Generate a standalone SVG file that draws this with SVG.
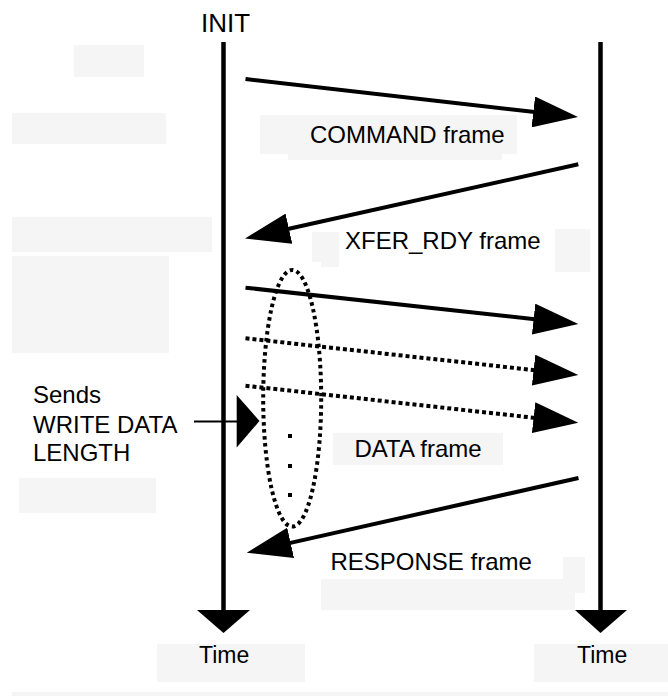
<svg xmlns="http://www.w3.org/2000/svg" width="668" height="696" viewBox="0 0 668 696">
<style>
.bg{fill:#f5f5f5;stroke:none}
.lbl{font-family:"Liberation Sans",Arial,sans-serif;font-size:24px;fill:#000}
.life{stroke:#000;stroke-width:4.5;fill:none}
.arr{stroke:#000;stroke-width:4;fill:none;marker-end:url(#ah)}
.dot{stroke:#000;stroke-width:4;fill:none;stroke-dasharray:4 3;marker-end:url(#ah)}
.head{fill:#000;stroke:none}
</style>
<defs>
<marker id="ah" markerUnits="userSpaceOnUse" viewBox="0 0 45 31" refX="15" refY="15.5" markerWidth="45" markerHeight="31" orient="auto">
<path d="M0,0 L45,15.5 L0,31 Z" fill="#000"/>
</marker>
</defs>
<rect width="668" height="696" fill="#fff"/>
<g id="erased-areas">
<rect class="bg" x="74" y="45" width="70" height="32"/>
<rect class="bg" x="12" y="113" width="154" height="31"/>
<rect class="bg" x="260" y="115" width="257" height="39"/>
<rect class="bg" x="288" y="154" width="214" height="6"/>
<rect class="bg" x="12" y="217" width="200" height="35"/>
<rect class="bg" x="12" y="256" width="157" height="97"/>
<rect class="bg" x="19" y="478" width="137" height="35"/>
<rect class="bg" x="312" y="232" width="27" height="30"/>
<rect class="bg" x="321" y="262" width="18" height="5"/>
<rect class="bg" x="555" y="229" width="35" height="43"/>
<rect class="bg" x="333" y="433" width="170" height="32"/>
<rect class="bg" x="563" y="557" width="22" height="22"/>
<rect class="bg" x="321" y="579" width="264" height="14"/>
<rect class="bg" x="321" y="593" width="254" height="17"/>
<rect class="bg" x="157" y="644" width="148" height="38"/>
<rect class="bg" x="534" y="644" width="134" height="38"/>
<rect class="bg" x="12" y="692" width="656" height="4"/>
</g>
<g id="initiator">
<text class="lbl" x="201" y="32" style="font-size:26px">INIT</text>
<line class="life" x1="223.5" y1="42" x2="223.5" y2="612"/>
<polygon class="head" points="197,610 250,610 223.5,633"/>
<text class="lbl" x="199" y="663" style="font-size:23px">Time</text>
</g>
<g id="target">
<line class="life" x1="600.5" y1="42" x2="600.5" y2="612"/>
<polygon class="head" points="575,610 627,610 600.5,633"/>
<text class="lbl" x="577" y="663" style="font-size:23px">Time</text>
</g>
<g id="burst-ellipse">
<ellipse cx="292.2" cy="398.3" rx="29" ry="128.3" fill="none" stroke="#000" stroke-width="4" stroke-dasharray="3.5 3.5"/>
<rect x="288" y="434" width="4" height="4" fill="#000"/>
<rect x="288" y="464" width="4" height="4" fill="#000"/>
<rect x="288" y="493" width="4" height="4" fill="#000"/>
</g>
<g id="sends-note">
<text class="lbl" x="33" y="403">Sends</text>
<text class="lbl" x="33" y="433">WRITE DATA</text>
<text class="lbl" x="33" y="461">LENGTH</text>
</g>
<g id="labels">
<text class="lbl" x="310" y="143">COMMAND frame</text>
<text class="lbl" x="345" y="249">XFER_RDY frame</text>
<text class="lbl" x="354.5" y="457">DATA frame</text>
<text class="lbl" x="330.5" y="570">RESPONSE frame</text>
</g>
<g id="connectors">
<line class="arr" x1="245.5" y1="79" x2="548.2" y2="113.6"/>
<line class="arr" x1="578.3" y1="164.3" x2="274.3" y2="232"/>
<line class="arr" x1="245.5" y1="287.7" x2="548.5" y2="320.7"/>
<line class="dot" x1="245.5" y1="338.3" x2="548.5" y2="371.7"/>
<line class="dot" x1="245.5" y1="385.7" x2="548.5" y2="419.4"/>
<line class="arr" x1="578.5" y1="478" x2="276" y2="546.1"/>
<line x1="194" y1="421.5" x2="238" y2="421.5" stroke="#000" stroke-width="2"/>
<polygon class="head" points="236.7,395 236.7,447.5 259.5,421"/>
</g>
</svg>
